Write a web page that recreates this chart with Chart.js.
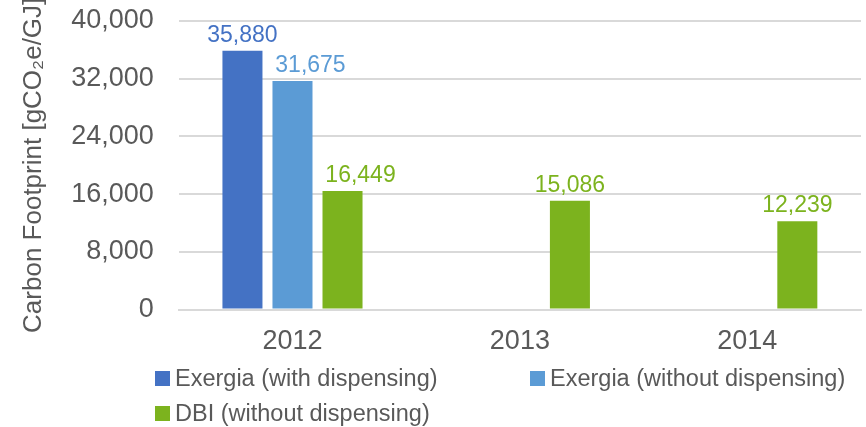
<!DOCTYPE html>
<html>
<head>
<meta charset="utf-8">
<script src="https://cdn.jsdelivr.net/npm/chart.js@4.4.0/dist/chart.umd.min.js"></script>
<style>
  html, body { margin: 0; padding: 0; background: #fff; }
  #wrap { position: relative; width: 866px; height: 427px; }
  #chart { display: block; }
  #legend {
    position: absolute; left: 155px; top: 364px; width: 711px;
    display: grid; grid-template-columns: 375px auto; row-gap: 7px;
    font-family: "Liberation Sans", Arial, sans-serif; font-size: 23.5px; color: #595959;
  }
  #legend .item { display: flex; align-items: center; white-space: nowrap; line-height: 28px; }
  #legend .box { width: 15px; height: 15px; margin-right: 5px; flex: none; }
</style>
</head>
<body>
<div id="wrap">
  <canvas id="chart" width="866" height="427"></canvas>
  <div id="legend"></div>
</div>
<script>
const years = ["2012", "2013", "2014"];
const exergiaWith = [35880, null, null];
const exergiaWithout = [31675, null, null];
const dbiWithout = [16449, 15086, 12239];
const seriesNames = ["Exergia (with dispensing)", "Exergia (without dispensing)", "DBI (without dispensing)"];
const yTicksMax = 40000;
const yTicksStep = 8000;

const fontFamily = '"Liberation Sans", Arial, sans-serif';
const textColor = "#595959";
const gridColor = "#d9d9d9";
const seriesColors = ["#4472c4", "#5b9bd5", "#7cb31e"];

// draws the value above each bar in the bar's colour,
// nudged right when the bar to its left also carries a label
const valueLabels = {
    id: "valueLabels",
    afterDatasetsDraw(chart) {
        const ctx = chart.ctx;
        chart.data.datasets.forEach((ds, i) => {
            const meta = chart.getDatasetMeta(i);
            meta.data.forEach((bar, j) => {
                const v = ds.data[j];
                if (v == null) return;
                const prev = i > 0 ? chart.data.datasets[i - 1].data[j] : null;
                const dx = prev != null ? 18 : 0;
                ctx.save();
                ctx.fillStyle = ds.backgroundColor;
                ctx.font = "23px " + fontFamily;
                ctx.textAlign = "center";
                ctx.textBaseline = "bottom";
                ctx.fillText(v.toLocaleString("en-US"), bar.x + dx, bar.y - 4);
                ctx.restore();
            });
        });
    },
};

const datasets = [exergiaWith, exergiaWithout, dbiWithout].map((values, i) => ({
    label: seriesNames[i],
    data: values,
    backgroundColor: seriesColors[i],
    borderWidth: 0,
    barPercentage: 0.8,
    categoryPercentage: 0.66,
}));

new Chart(document.getElementById("chart"), {
    type: "bar",
    data: { labels: years, datasets: datasets },
    options: {
        responsive: false,
        animation: false,
        locale: "en-US",
        layout: { padding: { top: 21, right: 5, bottom: 61, left: 18 } },
        plugins: {
            legend: { display: false },
            tooltip: { enabled: false },
        },
        scales: {
            x: {
                grid: { display: false },
                border: { color: gridColor, width: 2 },
                ticks: { color: textColor, font: { family: fontFamily, size: 27 }, padding: 8 },
            },
            y: {
                min: 0,
                max: yTicksMax,
                ticks: {
                    stepSize: yTicksStep,
                    color: textColor,
                    font: { family: fontFamily, size: 27 },
                    padding: 0,
                },
                // invisible tick marks give the gap between labels and plot
                grid: { color: gridColor, lineWidth: 2, drawTicks: true, tickLength: 25, tickColor: "rgba(0,0,0,0)" },
                border: { display: false },
                title: {
                    display: true,
                    text: "Carbon Footprint [gCO\u2082e/GJ]",
                    color: textColor,
                    font: { family: fontFamily, size: 26 },
                    padding: { top: 0, bottom: 22 },
                },
            },
        },
    },
    plugins: [valueLabels],
});

const legendEl = document.getElementById("legend");
seriesNames.forEach((name, i) => {
    const item = document.createElement("div");
    item.className = "item";
    const box = document.createElement("span");
    box.className = "box";
    box.style.background = seriesColors[i];
    item.appendChild(box);
    item.appendChild(document.createTextNode(name));
    legendEl.appendChild(item);
});
</script>
</body>
</html>
